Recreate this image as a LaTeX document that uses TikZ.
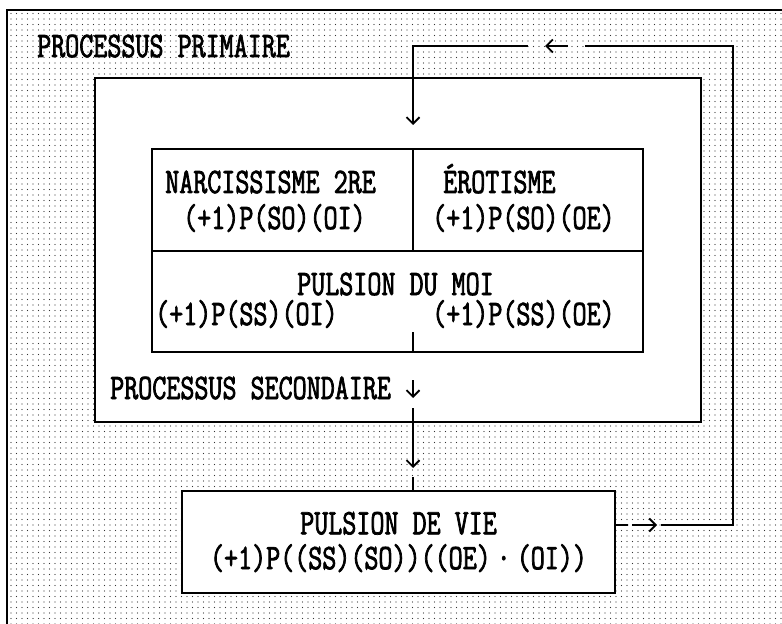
\documentclass[tikz,border=0pt]{standalone}
\usepackage{fontspec}
\usetikzlibrary{arrows.meta,patterns.meta}
\newfontfamily\tw[FakeStretch=0.76,FakeBold=2]{Latin Modern Mono}
\begin{document}
\begin{tikzpicture}[x=1bp,y=-1bp,
  every node/.style={font=\tw\fontsize{36}{35}\selectfont},
  txt/.style={anchor=base west,inner sep=0pt,text height=22bp,text depth=4bp},
  frame/.style={line width=2bp},
  cell/.style={draw,line width=1.3bp,minimum width=#1,inner sep=0pt},
  conn/.style={line width=1.8bp},
  arr/.style={line width=1.8bp,-{Straight Barb[length=6.5bp,width=13bp,line width=1.9bp]}}]
\useasboundingbox (0,0) rectangle (782,624);
% stippled ground
\fill[pattern={Dots[distance=5.5bp,radius=0.7bp]},pattern color=black!80] (7,10) rectangle (782,624);
\draw[frame] (7,624) -- (7,10) -- (782,10);
% secondary process box
\node[draw,frame,fill=white,minimum width=606bp,minimum height=344bp,inner sep=0pt] (sec) at (398,250) {};
% table
\node[cell=261bp,minimum height=102bp] (narc) at (282.5,200) {};
\node[cell=230bp,minimum height=102bp] (ero) at (528,200) {};
\node[cell=491bp,minimum height=101bp] (moi) at (397.5,301.5) {};
\coordinate (tk) at (413,332);
\draw[line width=1.3bp] (tk) -- (tk |- moi.south);
% bottom box
\node[draw,frame,fill=white,minimum width=433bp,minimum height=102bp,align=center,inner sep=0pt] (vie) at (398.5,542)
  {PULSION DE VIE\\(+1)P((SS)(SO))((OE)\,·\,(OI))};
% texts
\node[txt] (pp) at (37,57) {PROCESSUS PRIMAIRE};
\node[txt] (ps) at (110,399) {PROCESSUS SECONDAIRE};
\node[txt] (n1) at (165,193) {NARCISSISME 2RE};
\node[txt] (n2) at (183,229) {(+1)P(SO)(OI)};
\node[txt] (e1) at (443,193) {ÉROTISME};
\node[txt] (e2) at (432,229) {(+1)P(SO)(OE)};
\node[txt] (m1) at (297,295) {PULSION DU MOI};
\node[txt] (m2) at (155,325) {(+1)P(SS)(OI)};
\node[txt] (m3) at (432,325) {(+1)P(SS)(OE)};
% downward flow
\coordinate (d0) at (413,380);
\coordinate (d1) at (413,398);
\coordinate (d2) at (413,408);
\coordinate (d3) at (413,468);
\coordinate (d4) at (413,477);
\draw[arr] (d0) -- (d1);
\draw[arr] (d2) -- (d3);
\draw[conn] (d4) -- (d4 |- vie.north);
% feedback loop
\coordinate (r0) at ([yshift=17bp]vie.east);
\coordinate (r1) at (628,525);
\coordinate (r2) at (632,525);
\coordinate (r3) at (657,525);
\coordinate (r4) at (661,525);
\coordinate (c1) at (733,525);
\coordinate (c2) at (733,46);
\coordinate (u0) at (585,46);
\coordinate (u1) at (568,46);
\coordinate (u2) at (545,46);
\coordinate (u3) at (528,46);
\coordinate (c3) at (413,46);
\coordinate (t0) at (413,125);
\draw[conn] (r0) -- (r1);
\draw[arr] (r2) -- (r3);
\draw[conn] (r4) -- (c1) -- (c2) -- (u0);
\draw[arr] (u1) -- (u2);
\draw[arr] (u3) -- (c3) -- (t0);
\end{tikzpicture}
\end{document}
